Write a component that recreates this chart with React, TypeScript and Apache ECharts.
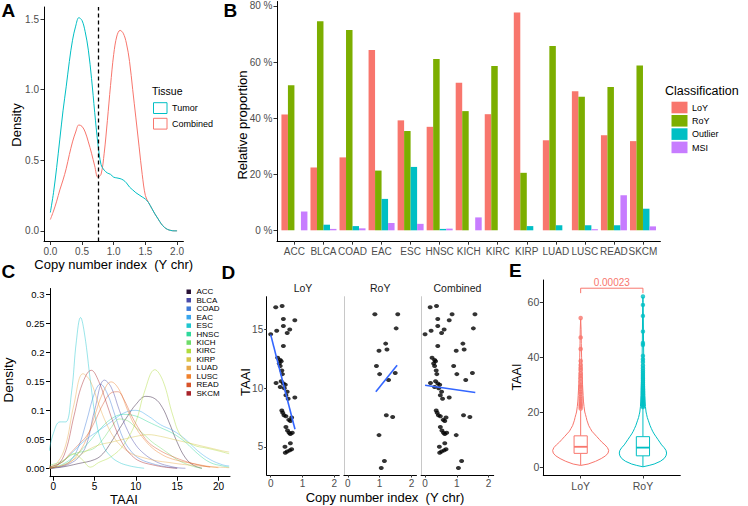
import React, { useEffect, useRef } from "react";
import * as echarts from "echarts";

const FONT = "'Liberation Sans', Arial, Helvetica, sans-serif";

// ---------------- Panel A: density of copy number index ----------------
const aCopyIndex = [0, 0.05, 0.1, 0.15, 0.2, 0.25, 0.3, 0.35, 0.4, 0.45, 0.5, 0.55, 0.6, 0.65, 0.7, 0.75, 0.8, 0.85, 0.9, 0.95, 1.0, 1.05, 1.1, 1.15, 1.2, 1.25, 1.3, 1.35, 1.4, 1.45, 1.5, 1.55, 1.6, 1.65, 1.7, 1.75, 1.8, 1.85, 1.9, 1.95, 2.0];
const aTumor = [0.13, 0.27, 0.45, 0.65, 0.85, 1.02, 1.2, 1.35, 1.45, 1.51, 1.49, 1.41, 1.28, 1.08, 0.84, 0.62, 0.47, 0.43, 0.41, 0.4, 0.38, 0.375, 0.37, 0.36, 0.34, 0.31, 0.29, 0.27, 0.255, 0.24, 0.225, 0.2, 0.16, 0.12, 0.085, 0.05, 0.025, 0.01, 0.003, 0, 0];
const aCombined = [0.08, 0.14, 0.21, 0.29, 0.36, 0.44, 0.54, 0.63, 0.7, 0.75, 0.74, 0.7, 0.63, 0.55, 0.46, 0.38, 0.4, 0.55, 0.78, 1.03, 1.25, 1.38, 1.42, 1.4, 1.33, 1.2, 1.0, 0.8, 0.6, 0.4, 0.25, 0.2, 0.16, 0.12, 0.085, 0.05, 0.025, 0.01, 0.003, 0, 0];
const aCutoff = 0.75;
const aTissues = ["Tumor", "Combined"];
const aTicksX = [0, 0.5, 1, 1.5, 2];
const aTicksY = [0, 0.5, 1, 1.5];

// ---------------- Panel B: relative proportion per cancer ----------------
const bCategories = ["ACC", "BLCA", "COAD", "EAC", "ESC", "HNSC", "KICH", "KIRC", "KIRP", "LUAD", "LUSC", "READ", "SKCM"];
const bClasses = ["LoY", "RoY", "Outlier", "MSI"];
const bLoY = [41.3, 22.4, 26.0, 64.3, 39.2, 36.9, 52.6, 41.4, 77.7, 32.1, 49.6, 33.9, 31.8];
const bRoY = [51.7, 74.5, 71.4, 21.3, 35.4, 61.1, 42.5, 58.6, 20.5, 65.7, 47.6, 51.1, 58.8];
const bOutlier = [0, 2.0, 1.5, 11.2, 22.6, 0.5, 0, 0, 1.5, 1.8, 1.8, 1.8, 7.7];
const bMSI = [6.7, 0.5, 0.7, 2.6, 2.3, 0.6, 4.6, 0, 0, 0, 0.4, 12.5, 1.4];
const bTicksY = [0, 20, 40, 60, 80];

// ---------------- Panel C: TAAI density per cancer ----------------
const cTissues = ["ACC", "BLCA", "COAD", "EAC", "ESC", "HNSC", "KICH", "KIRC", "KIRP", "LUAD", "LUSC", "READ", "SKCM"];
const cColors = ["#2a1236", "#4a4aa8", "#3f7ad8", "#3aa6ee", "#1fc6cf", "#2ed89c", "#6fdc6a", "#b0dc3e", "#d8c64a", "#e8a84a", "#f0812d", "#d8532a", "#a8232a"];
const cACC = [[-0.5, 0], [1, 0.002], [3, 0.008], [5, 0.015], [6, 0.025], [7, 0.045], [8, 0.068], [9, 0.09], [10, 0.11], [11.2, 0.124], [12.3, 0.12], [13.2, 0.105], [14, 0.08], [15, 0.045], [16, 0.018], [17, 0.005], [18, 0]];
const cBLCA = [[-0.5, 0], [1, 0.003], [2, 0.008], [3, 0.018], [4, 0.04], [5, 0.1], [6.2, 0.152], [7, 0.14], [8, 0.1], [9, 0.065], [10, 0.04], [11, 0.025], [12, 0.015], [13, 0.008], [14, 0.004], [15, 0.001], [16, 0]];
const cCOAD = [[-0.5, 0], [1, 0.004], [2, 0.012], [3, 0.035], [4, 0.08], [5, 0.13], [5.7, 0.145], [6.5, 0.13], [7.5, 0.09], [8.5, 0.05], [9.5, 0.028], [10.5, 0.016], [12, 0.008], [13.5, 0.003], [15, 0]];
const cEAC = [[-0.5, 0.002], [1, 0.01], [2.5, 0.03], [4, 0.05], [5.5, 0.065], [7, 0.08], [8.5, 0.095], [10, 0.1], [11.5, 0.09], [13, 0.075], [14.5, 0.065], [16, 0.05], [17.5, 0.03], [19, 0.015], [20.5, 0.006], [21.3, 0.004]];
const cESC = [[-0.5, 0.03], [0, 0.06], [0.8, 0.08], [1.5, 0.08], [2.2, 0.13], [2.8, 0.22], [3.3, 0.26], [3.8, 0.23], [4.5, 0.15], [5.2, 0.08], [6, 0.04], [7, 0.02], [8, 0.01], [9, 0.005], [10, 0.002], [11, 0]];
const cHNSC = [[-0.5, 0], [1, 0.006], [2.5, 0.02], [4, 0.04], [5.5, 0.065], [7, 0.085], [8.5, 0.093], [10, 0.09], [11.5, 0.08], [13, 0.07], [14.5, 0.06], [16, 0.045], [17.5, 0.025], [19, 0.01], [20.5, 0.004], [21.3, 0.002]];
const cKICH = [[-0.5, 0.005], [1, 0.012], [2.5, 0.025], [4, 0.03], [5, 0.035], [6, 0.05], [7, 0.07], [8, 0.085], [9, 0.082], [10, 0.07], [11, 0.058], [12, 0.045], [13, 0.035], [14, 0.025], [15, 0.015], [16, 0.008], [17, 0.003], [18, 0]];
const cKIRC = [[-0.5, 0], [1, 0.01], [2.5, 0.025], [3.5, 0.015], [4.5, 0.002], [5.5, 0.01], [7, 0.02], [8.5, 0.04], [10, 0.08], [11, 0.13], [12.3, 0.17], [13.3, 0.15], [14.5, 0.09], [15.5, 0.055], [17, 0.04], [18.5, 0.035], [20, 0.03], [21.3, 0.025]];
const cKIRP = [[-0.5, 0], [1, 0.005], [2.5, 0.015], [4, 0.03], [5.5, 0.04], [7, 0.045], [8.5, 0.05], [10, 0.055], [11.5, 0.058], [13, 0.055], [14.5, 0.05], [16, 0.045], [17.5, 0.04], [19, 0.035], [20.5, 0.03], [21.3, 0.028]];
const cLUAD = [[-0.5, 0.002], [0.5, 0.01], [1.5, 0.04], [2.5, 0.11], [3.6, 0.163], [4.5, 0.15], [5.5, 0.11], [6.5, 0.075], [7.5, 0.05], [8.5, 0.035], [9.5, 0.025], [11, 0.018], [12.5, 0.013], [14, 0.01], [15.5, 0.007], [17, 0.005], [18.5, 0.003], [20, 0.002], [21.3, 0.001]];
const cLUSC = [[-0.5, 0], [1, 0.004], [2, 0.01], [3, 0.025], [4, 0.05], [5, 0.09], [6, 0.13], [7, 0.149], [8, 0.135], [9, 0.1], [10, 0.07], [11, 0.05], [12, 0.035], [13, 0.025], [14, 0.018], [15.5, 0.012], [17, 0.008], [18.5, 0.004], [20, 0.001]];
const cREAD = [[-0.5, 0.002], [1, 0.01], [2, 0.025], [3, 0.04], [4, 0.055], [5, 0.08], [6, 0.11], [7, 0.13], [7.8, 0.132], [8.5, 0.12], [9.5, 0.09], [10.5, 0.065], [11.5, 0.045], [13, 0.03], [14.5, 0.02], [16, 0.012], [17.5, 0.006], [19, 0.002]];
const cSKCM = [[-0.5, 0], [0.5, 0.005], [1.5, 0.03], [2.5, 0.09], [3.5, 0.145], [4.6, 0.169], [5.5, 0.15], [6.5, 0.11], [7.5, 0.07], [8.5, 0.04], [9.5, 0.022], [10.5, 0.012], [12, 0.006], [13.5, 0.002], [15, 0]];
const cCurves = [cACC, cBLCA, cCOAD, cEAC, cESC, cHNSC, cKICH, cKIRC, cKIRP, cLUAD, cLUSC, cREAD, cSKCM];
const cTicksX = [0, 5, 10, 15, 20];
const cTicksY = [0, 0.05, 0.1, 0.15, 0.2, 0.25, 0.3];
const cTickLabelsY = ["0.00", "0.05", "0.1", "0.15", "0.2", "0.25", "0.3"];

// ---------------- Panel D: TAAI vs copy number index ----------------
const dFacets = ["LoY", "RoY", "Combined"];
const dLoY = [[0.16, 16.9], [0.36, 17.0], [0.4, 15.9], [0.76, 15.8], [0.4, 15.3], [0.6, 15.0], [0.52, 14.7], [0.19, 14.9], [0.0, 14.6], [0.4, 13.6],
  [0.22, 12.6], [0.3, 12.4], [0.27, 12.1], [0.33, 12.3], [0.3, 11.9], [0.35, 11.5], [0.37, 11.2],
  [0.17, 10.45], [0.33, 10.6], [0.4, 10.4], [0.46, 10.3], [0.3, 10.1], [0.43, 10.0], [0.52, 9.7], [0.48, 9.4], [0.55, 9.1], [0.76, 9.2],
  [0.35, 8.1], [0.38, 7.9], [0.42, 7.7], [0.48, 7.6], [0.57, 7.3], [0.62, 7.2], [0.66, 7.5],
  [0.48, 6.7], [0.53, 6.4], [0.58, 6.2], [0.62, 6.1], [0.68, 6.2],
  [0.62, 5.3], [0.45, 5.0], [0.52, 4.6], [0.6, 4.7], [0.66, 4.8], [0.46, 4.5]];
const dRoY = [[0.85, 16.3], [1.57, 16.3], [1.52, 15.1], [1.19, 13.8], [1.23, 13.3], [0.98, 13.2], [0.9, 11.9], [1.0, 11.2], [1.49, 11.3], [1.28, 10.7], [1.21, 7.7], [1.41, 7.55], [0.98, 6.0], [1.15, 3.8], [1.05, 3.2]];
const dFitLoY = [[0, 14.57], [0.765, 6.5]];
const dFitRoY = [[0.88, 9.7], [1.55, 11.95]];
const dFitCombined = [[0, 10.25], [1.58, 9.63]];
const dTicksX = [0, 1, 2];
const dTicksY = [5, 10, 15];

// ---------------- Panel E: TAAI violin ----------------
const eGroups = ["LoY", "RoY"];
const eViolinLoY = [[0.5, 0], [1, 0.12], [2, 0.24], [3, 0.33], [4, 0.4], [5, 0.44], [6, 0.45], [7, 0.43], [8, 0.39], [9, 0.34], [10, 0.3], [11, 0.26], [12, 0.22], [13, 0.18], [14, 0.155], [15, 0.13], [16, 0.115], [17, 0.1], [18, 0.09], [19, 0.078], [20, 0.066], [22, 0.054], [24, 0.045], [26, 0.04], [28, 0.035], [30, 0.03], [33, 0.025], [36, 0.02], [40, 0.015], [45, 0.01], [50, 0.007], [54, 0]];
const eViolinRoY = [[0, 0], [0.5, 0.1], [1, 0.18], [2, 0.28], [3, 0.34], [4, 0.37], [5, 0.38], [6, 0.37], [7, 0.34], [8, 0.3], [9, 0.27], [10, 0.24], [11, 0.21], [12, 0.18], [13, 0.155], [14, 0.135], [15, 0.115], [16, 0.1], [17, 0.085], [18, 0.07], [19, 0.06], [20, 0.05], [22, 0.04], [24, 0.035], [26, 0.03], [28, 0.028], [30, 0.025], [33, 0.02], [36, 0.017], [40, 0.013], [45, 0.01], [50, 0.008], [55, 0.006], [60, 0.004], [62, 0]];
const eBoxLoY = [0.6, 4.9, 7.3, 11.3, 20.7];
const eBoxRoY = [0.0, 4.0, 7.0, 11.0, 21.5];
const eOutLoY = [21.3, 22.0, 22.6, 23.2, 24.0, 24.8, 25.6, 26.6, 27.4, 28.3, 29.3, 29.9, 31.1, 32.3, 33.2, 34.1, 35.4, 36.2, 37.2, 38.6, 43.0, 47.2, 54.3];
const eOutRoY = [21.8, 22.3, 22.8, 23.3, 23.8, 24.3, 24.8, 25.3, 25.8, 26.4, 27.0, 27.6, 28.2, 28.8, 29.4, 30.0, 30.7, 31.4, 32.1, 32.8, 33.5, 34.3, 35.1, 36.0, 37.0, 38.3, 39.3, 40.5, 44.5, 45.2, 49.4, 55.1, 59.1, 62.2];
const ePValue = "0.00023";
const eBracket = [0, 1, 65.2, 63.4];
const eTicksY = [0, 20, 40, 60];

const RED = "#F8766D";
const TEAL = "#00BFC4";
const GREEN = "#7CAE00";
const PURPLE = "#C77CFF";

function ggAxis(extra: any) {
  return {
    splitLine: { show: false },
    axisLine: { show: true, onZero: false, lineStyle: { color: "#000", width: 1 } },
    ...extra,
  };
}
function ticks(values: number[], length = 3.5, color = "#333") {
  return { show: true, customValues: values, length, lineStyle: { color, width: 1 } };
}
function labels(values: number[], fmt: (v: number) => string, margin: number, size = 10, color = "#4D4D4D") {
  return { show: true, customValues: values, formatter: fmt, margin, color, fontSize: size, fontFamily: FONT };
}

function txt(text: string, x: number, y: number, size: number, opts: any = {}) {
  return {
    type: "text",
    x,
    y,
    rotation: opts.rotate ? Math.PI / 2 : 0,
    style: {
      text,
      fill: opts.fill || "#000",
      fontSize: size,
      fontFamily: FONT,
      fontWeight: opts.bold ? "bold" : "normal",
      align: opts.align || "center",
      verticalAlign: "middle",
    },
  };
}

function buildOption() {
  const grids: any[] = [
    { left: 44, top: 7, width: 139.4, height: 234.5 }, // A
    { left: 277, top: 1.5, width: 383.4, height: 239.7 }, // B
    { left: 50, top: 288.5, width: 180, height: 188.2 }, // C
    { left: 266.7, top: 296.7, width: 72.6, height: 178.3 }, // D1
    { left: 343.9, top: 296.7, width: 72.6, height: 178.3 }, // D2
    { left: 421.1, top: 296.7, width: 72.6, height: 178.3 }, // D3
    { left: 543.3, top: 280, width: 137, height: 195 }, // E
  ];

  const xAxis: any[] = [
    ggAxis({ type: "value", gridIndex: 0, min: -0.1, max: 2.1, axisTick: ticks(aTicksX), axisLabel: labels(aTicksX, (v) => v.toFixed(1), 5) }),
    ggAxis({ type: "value", gridIndex: 1, min: -0.6, max: 12.6, axisTick: ticks(bCategories.map((_, i) => i)), axisLabel: labels(bCategories.map((_, i) => i), (v) => bCategories[Math.round(v)], 5) }),
    ggAxis({ type: "value", gridIndex: 2, min: -0.4, max: 21.4, axisTick: ticks(cTicksX, 4, "#000"), axisLabel: labels(cTicksX, (v) => String(v), 5, 10, "#000") }),
    ...[3, 4, 5].map((g) => ggAxis({ type: "value", gridIndex: g, min: -0.125, max: 2.16, axisTick: ticks(dTicksX, 2.5), axisLabel: labels(dTicksX, (v) => String(v), 3.5, 10) })),
    ggAxis({ type: "value", gridIndex: 6, min: -0.6, max: 1.6, axisTick: ticks([0, 1]), axisLabel: labels([0, 1], (v) => eGroups[Math.round(v)], 5, 10.5) }),
  ];

  const yAxis: any[] = [
    ggAxis({ type: "value", gridIndex: 0, min: -0.0755, max: 1.5855, axisTick: ticks(aTicksY), axisLabel: labels(aTicksY, (v) => v.toFixed(1), 5) }),
    ggAxis({ type: "value", gridIndex: 1, min: -3.885, max: 81.585, axisTick: ticks(bTicksY), axisLabel: labels(bTicksY, (v) => `${Math.round(v)} %`, 4.5) }),
    ggAxis({ type: "value", gridIndex: 2, min: -0.0145, max: 0.31, axisTick: ticks(cTicksY, 4, "#000"), axisLabel: labels(cTicksY, (v) => cTickLabelsY[Math.round(v / 0.05)], 5.5, 9.5, "#000") }),
    ggAxis({ type: "value", gridIndex: 3, min: 2.6, max: 17.8, axisTick: ticks(dTicksY, 2.5), axisLabel: labels(dTicksY, (v) => String(v), 3.5, 10) }),
    ...[4, 5].map((g) => ({ type: "value", gridIndex: g, min: 2.6, max: 17.8, splitLine: { show: false }, axisTick: { show: false }, axisLabel: { show: false }, axisLine: { show: true, onZero: false, lineStyle: { color: "#C8C8C8", width: 1 } } })),
    ggAxis({ type: "value", gridIndex: 6, min: -3.0, max: 68.2, axisTick: ticks(eTicksY), axisLabel: labels(eTicksY, (v) => String(v), 4, 10.5) }),
  ];

  const series: any[] = [];

  // Panel A
  const aData = [aCombined, aTumor];
  const aCols = [RED, TEAL];
  const aNames = [aTissues[1], aTissues[0]];
  aData.forEach((vals, k) => {
    series.push({
      type: "line",
      name: aNames[k],
      xAxisIndex: 0,
      yAxisIndex: 0,
      data: aCopyIndex.map((x, i) => [x, vals[i]]),
      smooth: 0.35,
      showSymbol: false,
      lineStyle: { color: aCols[k], width: 1 },
      itemStyle: { color: aCols[k] },
      z: 2,
      markLine:
        k === 1
          ? {
              silent: true,
              symbol: "none",
              label: { show: false },
              lineStyle: { color: "#000", type: [4, 3], width: 1.3 },
              data: [{ xAxis: aCutoff }],
            }
          : undefined,
    });
  });

  // Panel B
  const bSeries = [bLoY, bRoY, bOutlier, bMSI];
  const bCols = [RED, GREEN, TEAL, PURPLE];
  bSeries.forEach((vals, k) => {
    series.push({
      type: "bar",
      name: bClasses[k],
      xAxisIndex: 1,
      yAxisIndex: 1,
      data: bCategories.map((_, i) => [i, vals[i]]),
      barWidth: 6.5,
      barGap: "0%",
      itemStyle: { color: bCols[k] },
    });
  });

  // Panel C
  cCurves.forEach((pts, k) => {
    series.push({
      type: "line",
      name: cTissues[k],
      xAxisIndex: 2,
      yAxisIndex: 2,
      data: pts,
      smooth: 0.4,
      showSymbol: false,
      lineStyle: { color: cColors[k], width: 1, opacity: 0.45 },
    });
  });

  // Panel D
  const dPts = [dLoY, dRoY, dLoY.concat(dRoY)];
  const dFits = [dFitLoY, dFitRoY, dFitCombined];
  dPts.forEach((pts, k) => {
    series.push({
      type: "scatter",
      name: dFacets[k],
      xAxisIndex: 3 + k,
      yAxisIndex: 3 + k,
      data: pts,
      symbol: "circle",
      symbolSize: [5, 4],
      itemStyle: { color: "#000" },
    });
    series.push({
      type: "line",
      name: dFacets[k] + " fit",
      xAxisIndex: 3 + k,
      yAxisIndex: 3 + k,
      data: dFits[k],
      showSymbol: false,
      lineStyle: { color: "#3366FF", width: 1.6 },
      z: 3,
    });
  });

  // Panel E
  const eProfiles = [eViolinLoY, eViolinRoY];
  const eCols = [RED, TEAL];
  series.push({
    type: "custom",
    name: "violin",
    xAxisIndex: 6,
    yAxisIndex: 6,
    data: [[0, 0], [1, 0]],
    encode: { x: 0, y: 1 },
    z: 2,
    renderItem: (params: any, api: any) => {
      const idx = api.value(0);
      const prof = eProfiles[idx];
      const left = prof.map(([y, w]) => api.coord([idx - w, y]));
      const right = prof.slice().reverse().map(([y, w]) => api.coord([idx + w, y]));
      return {
        type: "polygon",
        shape: { points: left.concat(right) },
        style: { fill: "#fff", stroke: eCols[idx], lineWidth: 1 },
      };
    },
  });
  const eBoxes = [eBoxLoY, eBoxRoY];
  series.push({
    type: "custom",
    name: "box",
    xAxisIndex: 6,
    yAxisIndex: 6,
    data: eBoxes.map((b, i) => [i, ...b]),
    encode: { x: 0, y: [1, 2, 3, 4, 5] },
    z: 3,
    renderItem: (params: any, api: any) => {
      const idx = api.value(0);
      const [mn, q1, md, q3, mx] = eBoxes[idx];
      const hw = 0.106;
      const tl = api.coord([idx - hw, q3]);
      const br = api.coord([idx + hw, q1]);
      const ml = api.coord([idx - hw, md]);
      const mr = api.coord([idx + hw, md]);
      const c = api.coord([idx, mx]);
      const cq3 = api.coord([idx, q3]);
      const cq1 = api.coord([idx, q1]);
      const cmn = api.coord([idx, mn]);
      const col = eCols[idx];
      return {
        type: "group",
        children: [
          { type: "line", shape: { x1: c[0], y1: c[1], x2: cq3[0], y2: cq3[1] }, style: { stroke: col, lineWidth: 1 } },
          { type: "line", shape: { x1: cq1[0], y1: cq1[1], x2: cmn[0], y2: cmn[1] }, style: { stroke: col, lineWidth: 1 } },
          { type: "rect", shape: { x: tl[0], y: tl[1], width: br[0] - tl[0], height: br[1] - tl[1] }, style: { fill: "#fff", stroke: col, lineWidth: 1 } },
          { type: "line", shape: { x1: ml[0], y1: ml[1], x2: mr[0], y2: mr[1] }, style: { stroke: col, lineWidth: 1.8 } },
        ],
      };
    },
  });
  [eOutLoY, eOutRoY].forEach((vals, k) => {
    series.push({
      type: "scatter",
      name: eGroups[k] + " outliers",
      xAxisIndex: 6,
      yAxisIndex: 6,
      data: vals.map((v) => [k, v]),
      symbolSize: 4.5,
      itemStyle: { color: eCols[k] },
      z: 4,
    });
  });
  series.push({
    type: "custom",
    name: "bracket",
    xAxisIndex: 6,
    yAxisIndex: 6,
    data: [eBracket],
    encode: { x: [0, 1], y: [2, 3] },
    z: 5,
    renderItem: (params: any, api: any) => {
      const [x0, x1, yTop, yBot] = eBracket;
      const a = api.coord([x0, yBot]);
      const b = api.coord([x0, yTop]);
      const c = api.coord([x1, yTop]);
      const d = api.coord([x1, yBot]);
      return {
        type: "group",
        children: [
          { type: "polyline", shape: { points: [a, b, c, d] }, style: { stroke: RED, lineWidth: 1, fill: "none" } },
          { type: "text", x: (b[0] + c[0]) / 2, y: b[1] - 5.5, style: { text: ePValue, fill: RED, fontSize: 10, fontFamily: FONT, align: "center", verticalAlign: "middle" } },
        ],
      };
    },
  });

  // Graphic: titles, legends, panel letters
  const graphic: any[] = [
    txt("A", 1.5, 10.5, 19, { bold: true, align: "left" }),
    txt("B", 223.5, 10.5, 19, { bold: true, align: "left" }),
    txt("C", 1.5, 271, 19, { bold: true, align: "left" }),
    txt("D", 221.5, 272, 19, { bold: true, align: "left" }),
    txt("E", 509, 270, 19, { bold: true, align: "left" }),
    // A
    txt("Density", 16, 125, 13, { rotate: true }),
    txt("Copy number index  (Y chr)", 113.7, 264.5, 13),
    txt("Tissue", 152, 90.5, 10.5, { align: "left" }),
    // B
    txt("Relative proportion", 242, 125, 13, { rotate: true }),
    txt("Classification", 665, 90.5, 12.5, { align: "left" }),
    // C
    txt("Density", 8, 380, 13.5, { rotate: true }),
    txt("TAAI", 124, 499.5, 13),
    // D
    txt("TAAI", 245, 382, 13, { rotate: true }),
    txt("Copy number index  (Y chr)", 385, 497.5, 13),
    // E
    txt("TAAI", 517, 377, 12.5, { rotate: true }),
  ];
  // A legend
  const aLegendCols = [TEAL, RED];
  aTissues.forEach((name, i) => {
    const y = 102.7 + i * 15.6;
    graphic.push({ type: "rect", shape: { x: 153.5, y, width: 13.5, height: 10.8 }, style: { fill: "#fff", stroke: aLegendCols[i], lineWidth: 1 } });
    graphic.push(txt(name, 172, y + 5.6, 9, { align: "left", fill: "#000" }));
  });
  // B legend
  bClasses.forEach((name, i) => {
    const y = 101.7 + i * 13.3;
    graphic.push({ type: "rect", shape: { x: 671.5, y, width: 16, height: 11.6 }, style: { fill: bCols[i] } });
    graphic.push(txt(name, 692, y + 6, 9, { align: "left", fill: "#000" }));
  });
  // C legend
  cTissues.forEach((name, i) => {
    const y = 291.7 + i * 8.47;
    graphic.push({ type: "rect", shape: { x: 186.5, y: y - 2.2, width: 4.5, height: 4.5 }, style: { fill: cColors[i] } });
    graphic.push(txt(name, 196.5, y, 8, { align: "left", fill: "#000" }));
  });
  // D facet strips
  dFacets.forEach((name, k) => {
    const g = grids[3 + k];
    graphic.push(txt(name, g.left + g.width / 2, 288, 10.5, { fill: "#1A1A1A" }));
  });

  return {
    animation: false,
    backgroundColor: "#fff",
    grid: grids,
    xAxis,
    yAxis,
    series,
    graphic,
  };
}

export default function App() {
  const ref = useRef<HTMLDivElement>(null);
  useEffect(() => {
    document.body.style.margin = "0";
    const chart = echarts.init(ref.current!, null, { renderer: "svg" });
    chart.setOption(buildOption() as any);
    return () => chart.dispose();
  }, []);
  return <div ref={ref} style={{ width: 748, height: 506 }} />;
}
